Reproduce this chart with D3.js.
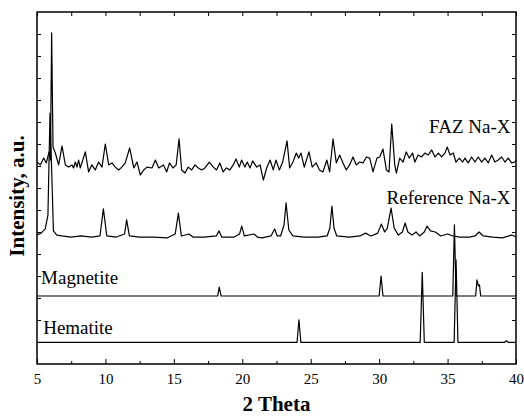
<!DOCTYPE html>
<html>
<head>
<meta charset="utf-8">
<script src="https://cdn.jsdelivr.net/npm/d3@7"></script>
<style>
  body { margin: 0; background: #fff; }
  text { font-family: "Liberation Serif", "Times New Roman", serif; fill: #000; }
</style>
</head>
<body>
<svg id="chart" width="524" height="416"></svg>
<script>
// x ticks (2 theta, degrees)
var xTicks = [5, 10, 15, 20, 25, 30, 35, 40],
    xMinorTicks = [7.5, 12.5, 17.5, 22.5, 27.5, 32.5, 37.5];

// FAZ Na-X pattern
var fazTheta = [5.0, 5.24, 5.49, 5.68, 5.88, 5.98, 6.07, 6.17, 6.34, 6.58, 6.83, 7.07, 7.31, 7.55, 7.67, 7.8, 7.92, 8.04, 8.16, 8.53, 8.77,
  9.0, 9.26, 9.5, 9.75, 9.99, 10.24, 10.48, 10.72, 10.97, 11.2, 11.45, 11.77, 12.07, 12.31, 12.55, 12.8, 13.04, 13.4, 13.65, 13.89,
  14.24, 14.48, 14.68, 14.93, 15.17, 15.38, 15.57, 15.81, 16.05, 16.3, 16.54, 16.79, 17.03, 17.27, 17.59, 17.88, 18.12, 18.36, 18.6,
  18.85, 19.09, 19.34, 19.54, 19.78, 19.95, 20.19, 20.36, 20.56, 20.76, 21.05, 21.3, 21.54, 21.78, 22.03, 22.27, 22.46, 22.71, 22.95,
  23.27, 23.46, 23.7, 23.95, 24.12, 24.29, 24.53, 24.87, 25.11, 25.4, 25.64, 25.89, 26.18, 26.38, 26.63, 26.87, 27.11, 27.36, 27.6,
  27.84, 28.09, 28.33, 28.57, 28.82, 29.06, 29.31, 29.55, 29.84, 30.04, 30.28, 30.53, 30.72, 30.92, 31.14, 31.26, 31.5, 31.75, 31.98,
  32.2, 32.44, 32.61, 32.85, 33.1, 33.34, 33.59, 33.84, 34.08, 34.33, 34.57, 34.81, 34.98, 35.18, 35.42, 35.61, 35.86, 36.1, 36.27,
  36.51, 36.76, 37.0, 37.24, 37.49, 37.73, 37.97, 38.22, 38.46, 38.7, 38.95, 39.19, 39.43, 39.68, 39.92, 40.0];
var fazIntensity = [9.18, 9.05, 9.36, 9.14, 9.64, 9.27, 15.05, 9.86, 9.59, 9.05, 9.91, 9.05, 8.95, 9.05, 8.91, 9.18, 8.95, 9.27, 8.91, 9.64, 8.73,
  9.05, 8.82, 9.18, 8.95, 10.0, 9.05, 9.14, 8.95, 8.82, 8.95, 9.14, 9.82, 8.91, 9.18, 8.59, 8.82, 8.95, 8.91, 9.27, 8.91,
  9.05, 8.73, 9.14, 8.91, 9.05, 10.23, 8.82, 8.68, 8.95, 8.82, 9.05, 8.91, 8.82, 8.91, 9.18, 8.95, 8.82, 9.14, 8.73,
  8.91, 8.82, 9.05, 9.32, 8.95, 9.27, 8.95, 9.18, 8.91, 9.23, 8.95, 9.05, 8.36, 8.91, 9.27, 8.82, 9.27, 8.82, 9.18,
  10.14, 8.91, 9.18, 9.59, 9.36, 9.59, 8.95, 9.64, 8.95, 9.14, 8.82, 8.73, 9.27, 8.73, 10.23, 9.14, 9.5, 9.14, 8.82,
  9.05, 9.41, 9.05, 9.18, 9.14, 9.41, 9.36, 8.73, 9.36, 9.41, 9.77, 8.82, 8.73, 10.91, 9.05, 8.68, 9.36, 9.18, 9.64,
  9.36, 9.59, 9.18, 9.5, 9.41, 9.59, 9.5, 9.73, 9.41, 9.59, 9.41, 9.59, 9.86, 9.5, 9.59, 9.18, 9.36, 9.18, 9.36,
  9.14, 9.41, 9.18, 9.41, 9.18, 9.36, 9.14, 9.5, 9.18, 9.27, 9.41, 9.18, 9.36, 9.14, 9.18, 9.27];

// Reference Na-X pattern
var refTheta = [5.0, 5.3, 5.6, 5.8, 5.95, 6.2, 6.45, 6.8, 7.5, 8.2, 9.0, 9.6, 9.85, 10.1, 10.8, 11.4, 11.55, 11.75, 12.5, 13.5, 14.5,
  15.1, 15.33, 15.55, 16.1, 16.4, 17.2, 18.1, 18.3, 18.5, 19.4, 19.8, 19.96, 20.15, 20.86, 21.1, 21.44, 22.1, 22.37, 22.55, 22.8,
  23.05, 23.2, 23.4, 23.7, 24.5, 25.5, 26.2, 26.4, 26.55, 26.7, 26.9, 27.8, 28.6, 29.0, 29.4, 29.9, 30.16, 30.4, 30.6, 30.87, 31.1,
  31.4, 31.7, 31.9, 32.1, 32.4, 32.7, 32.95, 33.3, 33.5, 33.75, 34.1, 34.5, 35.0, 35.4, 35.9, 36.6, 37.0, 37.3, 37.6, 38.3, 39.0,
  39.7, 40.0];
var refIntensity = [5.86, 5.95, 6.14, 6.77, 11.41, 6.05, 5.86, 5.82, 5.77, 5.82, 5.77, 5.82, 7.05, 5.82, 5.77, 5.91, 6.55, 5.82, 5.77, 5.77, 5.73,
  5.91, 6.86, 5.82, 5.91, 5.77, 5.77, 5.82, 6.05, 5.77, 5.77, 5.91, 6.27, 5.82, 5.91, 5.77, 5.73, 5.82, 6.14, 5.82, 5.82,
  6.32, 7.32, 6.09, 5.82, 5.77, 5.77, 5.82, 6.18, 7.18, 6.18, 5.82, 5.77, 5.82, 5.95, 5.82, 5.95, 6.36, 6.0, 6.18, 7.09, 6.18,
  5.86, 6.0, 6.41, 6.0, 5.86, 6.0, 5.82, 6.0, 6.27, 6.05, 6.0, 5.82, 5.91, 5.82, 5.77, 5.77, 5.82, 6.0, 5.82, 5.77, 5.73,
  5.86, 5.77];

// Magnetite reference lines
var magTheta = [5.0, 18.2, 18.32, 18.45, 30.0, 30.14, 30.28, 35.38, 35.5, 35.62, 37.05, 37.15, 37.25, 37.33, 37.42, 40.0];
var magIntensity = [3.09, 3.09, 3.5, 3.09, 3.09, 4.0, 3.09, 3.09, 6.32, 3.09, 3.09, 3.82, 3.55, 3.6, 3.09, 3.09];

// Hematite reference lines
var hemTheta = [5.0, 24.0, 24.14, 24.28, 33.0, 33.15, 33.3, 35.48, 35.62, 35.76, 39.15, 39.3, 39.45, 40.0];
var hemIntensity = [0.98, 0.98, 2.01, 0.98, 0.98, 4.17, 0.98, 0.98, 4.73, 0.98, 0.98, 1.06, 0.98, 0.98];

var series = [
  {name: "FAZ Na-X", theta: fazTheta, values: fazIntensity},
  {name: "Reference Na-X", theta: refTheta, values: refIntensity},
  {name: "Magnetite", theta: magTheta, values: magIntensity},
  {name: "Hematite", theta: hemTheta, values: hemIntensity}
];

var margin = {top: 12, right: 8, bottom: 52, left: 37},
    width = 524 - margin.left - margin.right,
    height = 416 - margin.top - margin.bottom;

var svg = d3.select("#chart");
var g = svg.append("g")
    .attr("transform", "translate(" + margin.left + "," + margin.top + ")");

var x = d3.scaleLinear().domain([5, 40]).range([0, width]);
var y = d3.scaleLinear().domain([0, 16]).range([height, 0]);

var line = d3.line()
    .x(function(d) { return x(d[0]); })
    .y(function(d) { return y(d[1]); });

// curves, drawn bottom first so the overlaps look like the original
series.slice().reverse().forEach(function(s) {
  g.append("path")
      .datum(d3.zip(s.theta, s.values))
      .attr("fill", "none")
      .attr("stroke", "#000")
      .attr("stroke-width", 1.2)
      .attr("stroke-linejoin", "round")
      .attr("d", line);
});

// axes: ticks point inward, labels only on the bottom
var yTicks = d3.range(1, 16);

g.append("g")
    .attr("transform", "translate(0," + height + ")")
    .call(d3.axisBottom(x).tickValues(xTicks).tickSize(-5).tickPadding(9).tickFormat(d3.format("d")))
    .call(function(a) {
      a.select(".domain").remove();
      a.selectAll("text").attr("font-size", 15).attr("font-family", "Liberation Serif");
    });

g.append("g")
    .attr("transform", "translate(0," + height + ")")
    .call(d3.axisBottom(x).tickValues(xMinorTicks).tickSize(-3).tickFormat(""))
    .call(function(a) { a.select(".domain").remove(); });

g.append("g")
    .call(d3.axisTop(x).tickValues(xTicks.concat(xMinorTicks)).tickSize(-4).tickFormat(""))
    .call(function(a) { a.select(".domain").remove(); });

g.append("g")
    .call(d3.axisLeft(y).tickValues(yTicks).tickSize(-4).tickFormat(""))
    .call(function(a) { a.select(".domain").remove(); });

g.append("g")
    .attr("transform", "translate(" + width + ",0)")
    .call(d3.axisRight(y).tickValues(yTicks).tickSize(-4).tickFormat(""))
    .call(function(a) { a.select(".domain").remove(); });

g.selectAll(".tick line").attr("stroke", "#000").attr("stroke-width", 1);

g.append("rect")
    .attr("width", width)
    .attr("height", height)
    .attr("fill", "none")
    .attr("stroke", "#000")
    .attr("stroke-width", 1.5);

// series labels
g.append("text")
    .attr("x", x(39.6)).attr("y", y(10.5))
    .attr("text-anchor", "end").attr("font-size", 19)
    .text("FAZ Na-X");
g.append("text")
    .attr("x", x(39.6)).attr("y", y(7.27))
    .attr("text-anchor", "end").attr("font-size", 19)
    .text("Reference Na-X");
g.append("text")
    .attr("x", x(5.3)).attr("y", y(3.64))
    .attr("font-size", 19)
    .text("Magnetite");
g.append("text")
    .attr("x", x(5.45)).attr("y", y(1.36))
    .attr("font-size", 19)
    .text("Hematite");

// axis titles
svg.append("text")
    .attr("x", margin.left + width / 2)
    .attr("y", 411)
    .attr("text-anchor", "middle")
    .attr("font-size", 21)
    .attr("font-weight", "bold")
    .text("2 Theta");

svg.append("text")
    .attr("transform", "translate(24,196) rotate(-90)")
    .attr("text-anchor", "middle")
    .attr("font-size", 21)
    .attr("font-weight", "bold")
    .text("Intensity, a.u.");
</script>
</body>
</html>
